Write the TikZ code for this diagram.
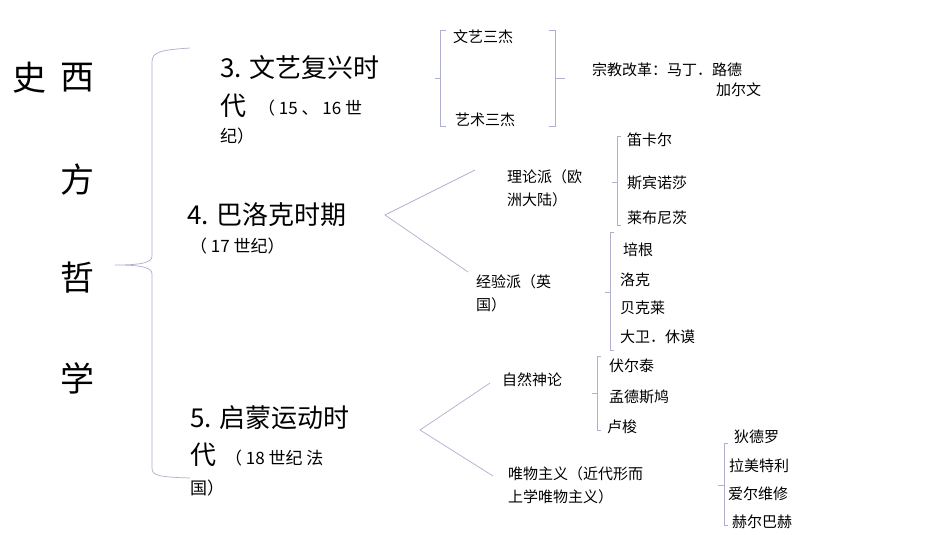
\documentclass[tikz,border=0pt]{standalone}
\usepackage{fontspec}
\setmainfont{Noto Sans CJK SC}
\begin{document}
\begin{tikzpicture}[x=1pt,y=-1pt,
  br/.style={draw=blue!25!gray!50!white, line width=0.7pt},
  ln/.style={draw=blue!25!gray!50!white, line width=0.7pt},
  big/.style={anchor=west, inner sep=0pt, font=\fontsize{34}{36}\selectfont},
  hd/.style={anchor=west, inner sep=0pt, font=\fontsize{26}{30}\selectfont},
  md/.style={anchor=west, inner sep=0pt, font=\fontsize{17}{20}\selectfont},
  sm/.style={anchor=west, inner sep=0pt, font=\fontsize{15}{18}\selectfont}]
\path[use as bounding box, fill=white] (0,0) rectangle (950,535);
% big brace
\draw[br] (190,48) .. controls (160,50) and (152,52) .. (152,62) -- (152,256) .. controls (152,263) and (140,265) .. (115,265) .. controls (140,265) and (152,267) .. (152,274) -- (152,468) .. controls (152,476) and (160,477) .. (190,478);
% small brackets
\draw[br] (446,30) -- (440,30) -- (440,126) -- (446,126) (440,78) -- (435,78);
\draw[br] (549,30) -- (555,30) -- (555,126) -- (549,126) (555,78) -- (565,78);
\draw[br] (621,136) -- (617,136) -- (617,225) -- (621,225) (617,182) -- (612,182);
\draw[br] (614,232) -- (610,232) -- (610,350) -- (614,350) (610,292) -- (605,292);
\draw[br] (601,356) -- (597,356) -- (597,430) -- (601,430) (597,393) -- (592,393);
\draw[br] (728,443) -- (724,443) -- (724,525) -- (728,525) (724,485) -- (718,485);
% lines
\coordinate (b4) at (385,215); \coordinate (b4a) at (475,170); \coordinate (b4b) at (468,272);
\coordinate (b5) at (420,430); \coordinate (b5a) at (490,383); \coordinate (b5b) at (493,476);
\draw[ln] (b4a) -- (b4) -- (b4b);
\draw[ln] (b5a) -- (b5) -- (b5b);
% titles
\node[big] (t1) at (12,78) {史};
\node[big] (t2) at (60,78) {西};
\node[big] (t3) at (60,180) {方};
\node[big] (t4) at (60,278) {哲};
\node[big] (t5) at (60,378) {学};
\node[hd] (a1) at (220,68) {3. 文艺复兴时};
\node[hd] (a2) at (220,106) {代};
\node[md] (a3) at (258,108) {（ 15 、 16 世};
\node[md] (a4) at (220,136) {纪）};
\node[hd] (b1) at (187,215) {4. 巴洛克时期};
\node[md] (b2) at (190,246) {（ 17 世纪）};
\node[hd] (c1) at (190,418) {5. 启蒙运动时};
\node[hd] (c2) at (190,455) {代};
\node[md] (c3) at (225,458) {（ 18 世纪 法};
\node[md] (c4) at (190,488) {国）};
% leaves
\node[sm] (d1) at (453,37) {文艺三杰};
\node[sm] (d2) at (455,120) {艺术三杰};
\node[sm] (d3) at (592,70) {宗教改革：马丁．路德};
\node[sm] (d4) at (716,90) {加尔文};
\node[sm] (e1) at (507,177) {理论派（欧};
\node[sm] (e2) at (507,200) {洲大陆）};
\node[sm] (e3) at (627,140) {笛卡尔};
\node[sm] (e4) at (627,183) {斯宾诺莎};
\node[sm] (e5) at (627,218) {莱布尼茨};
\node[sm] (f1) at (476,282) {经验派（英};
\node[sm] (f2) at (476,305) {国）};
\node[sm] (f3) at (623,250) {培根};
\node[sm] (f4) at (620,280) {洛克};
\node[sm] (f5) at (620,308) {贝克莱};
\node[sm] (f6) at (620,337) {大卫．休谟};
\node[sm] (g1) at (502,380) {自然神论};
\node[sm] (g2) at (609,366) {伏尔泰};
\node[sm] (g3) at (609,397) {孟德斯鸠};
\node[sm] (g4) at (607,427) {卢梭};
\node[sm] (h1) at (508,474) {唯物主义（近代形而};
\node[sm] (h2) at (508,497) {上学唯物主义）};
\node[sm] (h3) at (734,437) {狄德罗};
\node[sm] (h4) at (729,466) {拉美特利};
\node[sm] (h5) at (728,494) {爱尔维修};
\node[sm] (h6) at (732,522) {赫尔巴赫};
\end{tikzpicture}
\end{document}
